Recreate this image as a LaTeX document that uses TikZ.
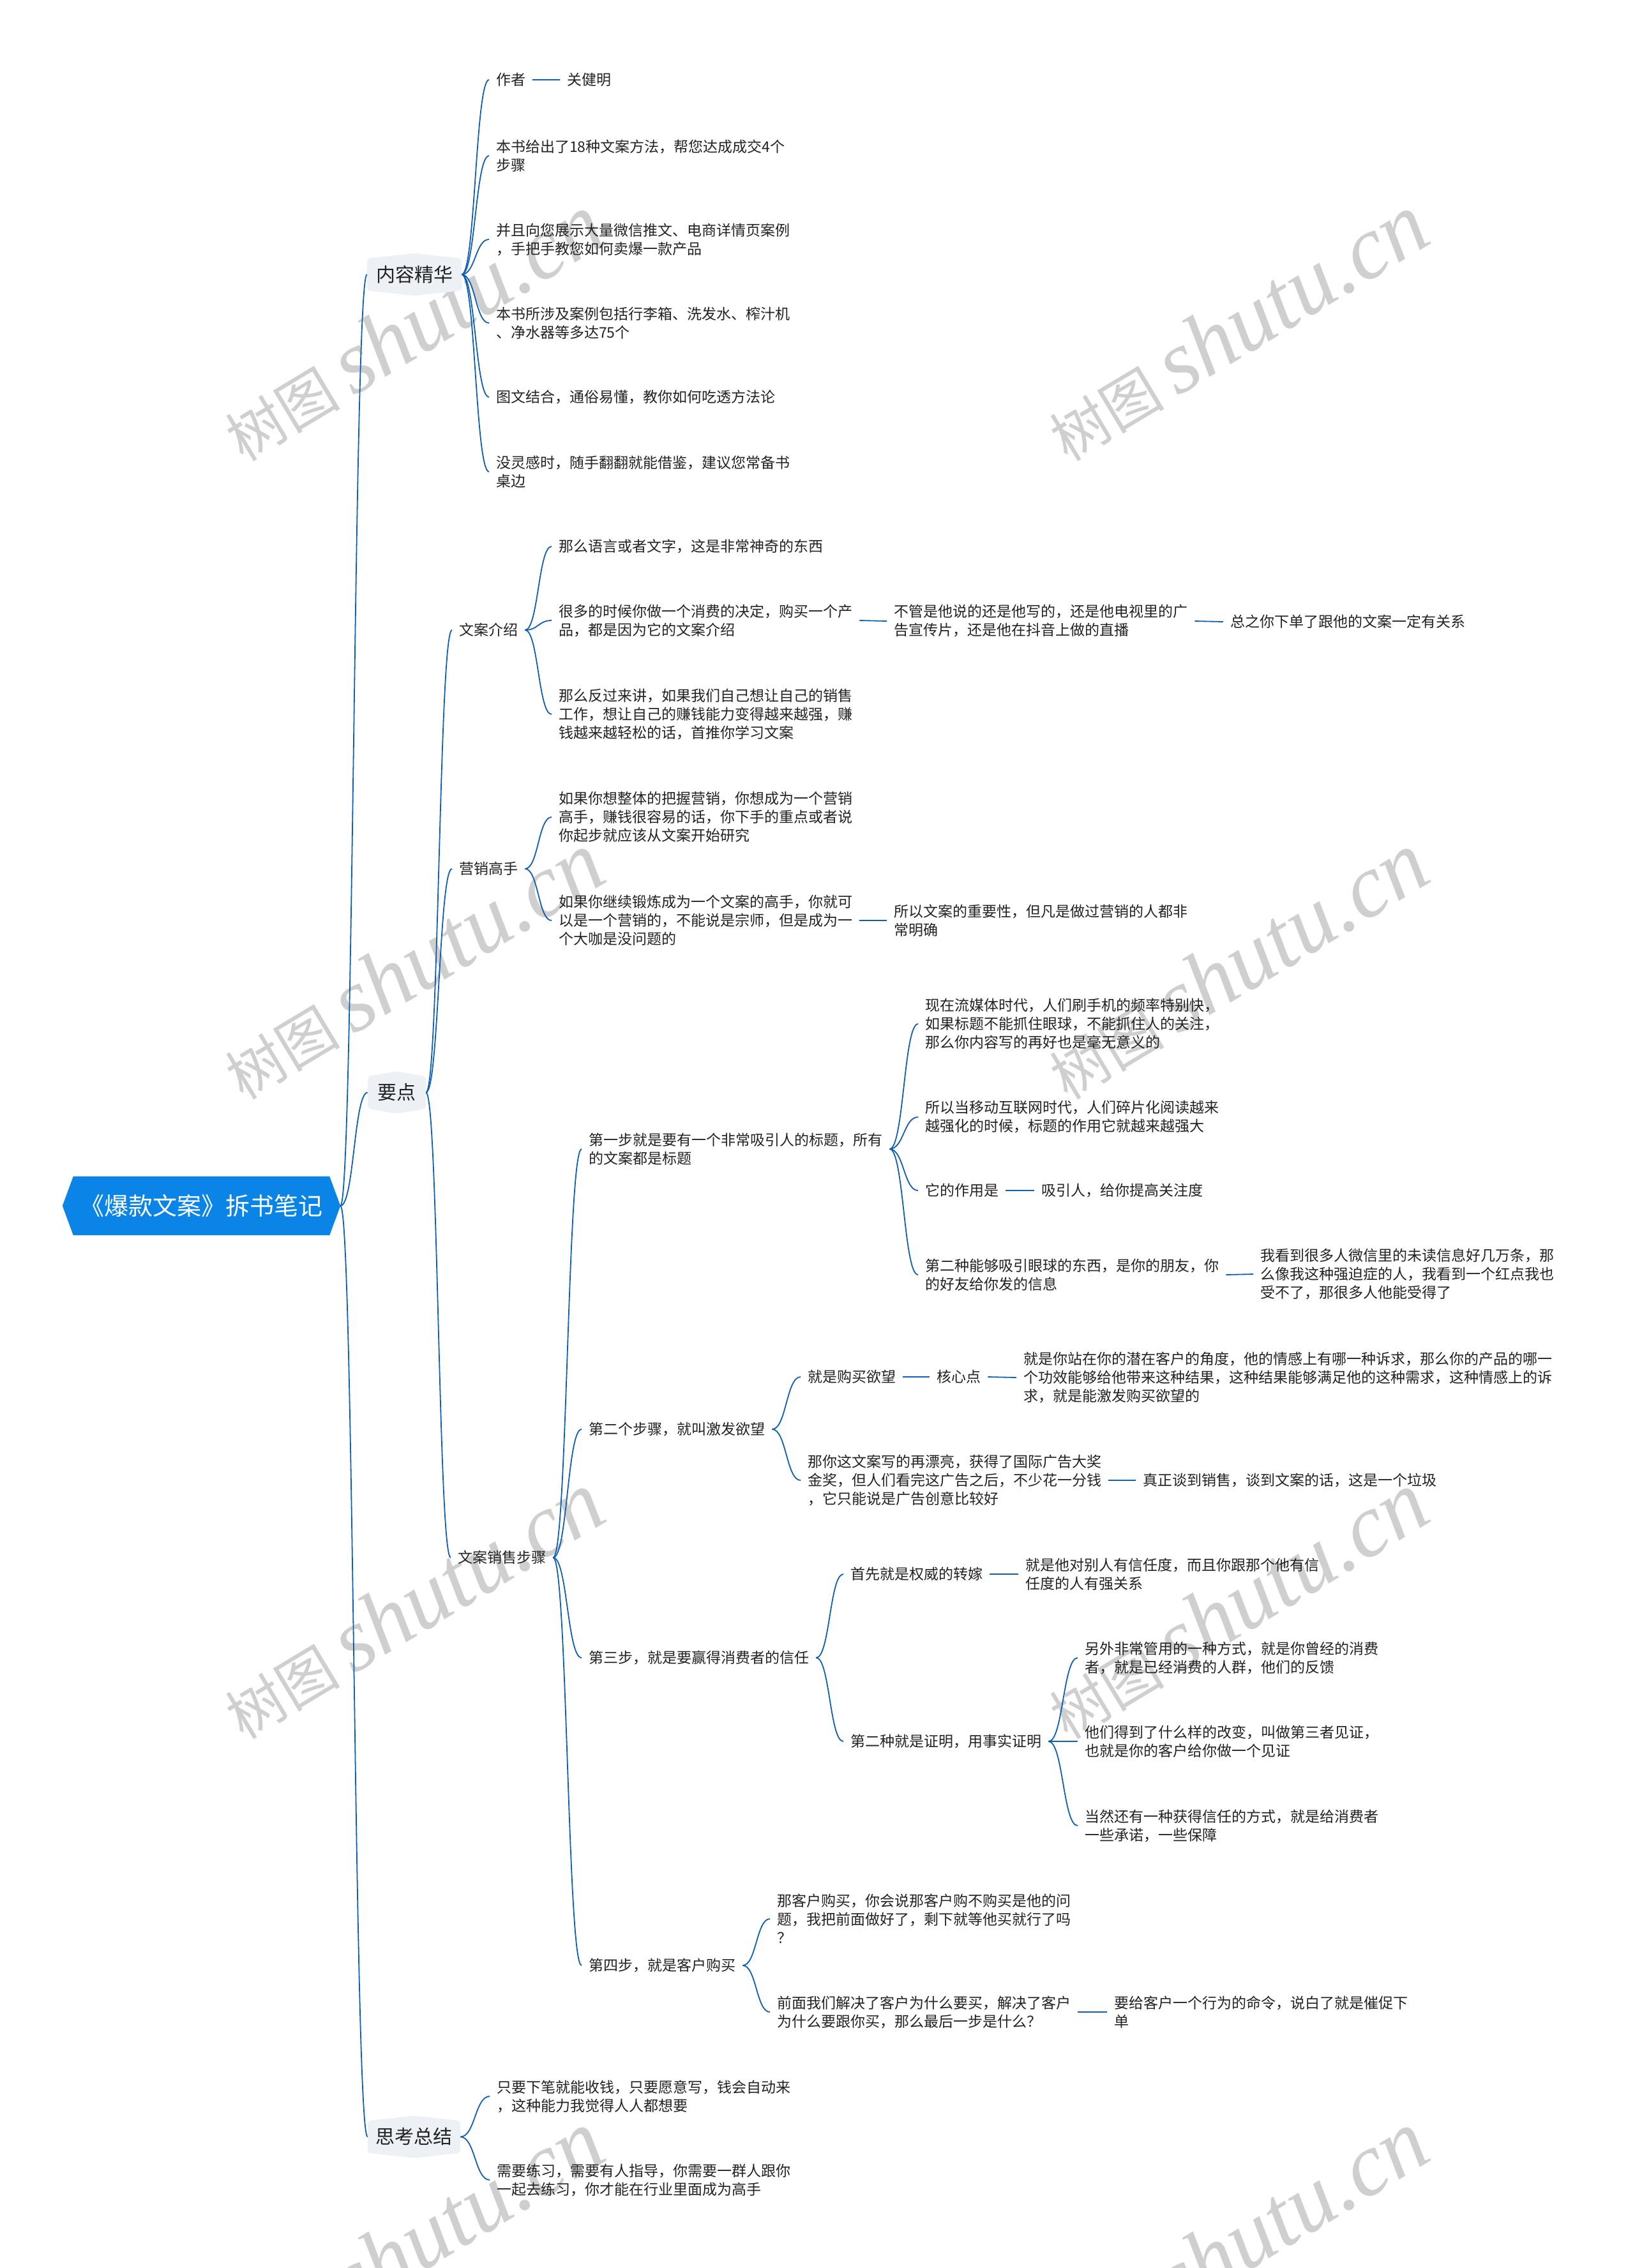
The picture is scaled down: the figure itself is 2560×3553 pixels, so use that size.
\documentclass[tikz,border=0pt]{standalone}
\usepackage{fontspec}
\setmainfont{Noto Sans CJK SC}
\newfontfamily\wmfont{Liberation Serif}
\usetikzlibrary{calc,backgrounds}
\definecolor{lnk}{HTML}{0E5EB6}
\definecolor{rootblue}{HTML}{0A84E6}
\definecolor{lonefill}{HTML}{EDF1F5}
\definecolor{txt}{HTML}{222222}
\definecolor{wmc}{HTML}{CFCFCF}
\newcommand\mmlink[2]{\draw[conn] (#1) .. controls ($(#1)!.5!(#1-|#2)$) and ($(#2)!.5!(#2-|#1)$) .. (#2);}
\begin{document}
\begin{tikzpicture}[x=1pt,y=-1pt,
  leaf/.style={font=\fontsize{23}{29}\selectfont, text=txt, align=left, inner xsep=11pt, inner ysep=2pt, anchor=west},
  lone/.style={font=\fontsize{30}{36}\selectfont, text=txt, inner sep=0pt, minimum height=66pt},
  rootn/.style={font=\fontsize{38}{46}\selectfont, text=white, inner sep=0pt, minimum width=435pt, minimum height=92pt},
  conn/.style={draw=lnk, line width=1.8pt},
  wmark/.style={rotate=31, text=wmc, inner sep=0pt}]
\useasboundingbox (0,0) rectangle (2560,3553);

% root and first level
\node[rootn] (root) at (315.5,1889) {《爆款文案》拆书笔记};
\node[lone, minimum width=148pt] (k1) at (649,430) {内容精华};
\node[lone, minimum width=91pt] (k2) at (621.5,1711.5) {要点};
\node[lone, minimum width=145pt] (k3) at (648.5,3347.5) {思考总结};

% 内容精华
\node[leaf] (a1) at (766,125) {作者};
\node[leaf] (a1b) at (877,125) {关健明};
\node[leaf] (a2) at (766,244) {本书给出了18种文案方法，帮您达成成交4个\\步骤};
\node[leaf] (a3) at (766,375) {并且向您展示大量微信推文、电商详情页案例\\，手把手教您如何卖爆一款产品};
\node[leaf] (a4) at (766,506) {本书所涉及案例包括行李箱、洗发水、榨汁机\\、净水器等多达75个};
\node[leaf] (a5) at (766,622) {图文结合，通俗易懂，教你如何吃透方法论};
\node[leaf] (a6) at (766,739) {没灵感时，随手翻翻就能借鉴，建议您常备书\\桌边};

% 要点
\node[leaf] (b1) at (708,987) {文案介绍};
\node[leaf] (b11) at (864,856) {那么语言或者文字，这是非常神奇的东西};
\node[leaf] (b12) at (864,972) {很多的时候你做一个消费的决定，购买一个产\\品，都是因为它的文案介绍};
\node[leaf] (b121) at (1389,973) {不管是他说的还是他写的，还是他电视里的广\\告宣传片，还是他在抖音上做的直播};
\node[leaf] (b1211) at (1916,974) {总之你下单了跟他的文案一定有关系};
\node[leaf] (b13) at (864,1119) {那么反过来讲，如果我们自己想让自己的销售\\工作，想让自己的赚钱能力变得越来越强，赚\\钱越来越轻松的话，首推你学习文案};
\node[leaf] (b2) at (708,1361) {营销高手};
\node[leaf] (b21) at (864,1280) {如果你想整体的把握营销，你想成为一个营销\\高手，赚钱很容易的话，你下手的重点或者说\\你起步就应该从文案开始研究};
\node[leaf] (b22) at (864,1442) {如果你继续锻炼成为一个文案的高手，你就可\\以是一个营销的，不能说是宗师，但是成为一\\个大咖是没问题的};
\node[leaf] (b221) at (1389,1442) {所以文案的重要性，但凡是做过营销的人都非\\常明确};
\node[leaf] (b3) at (706,2440) {文案销售步骤};

\node[leaf] (c1) at (911,1800) {第一步就是要有一个非常吸引人的标题，所有\\的文案都是标题};
\node[leaf] (c11) at (1438,1604) {现在流媒体时代，人们刷手机的频率特别快，\\如果标题不能抓住眼球，不能抓住人的关注，\\那么你内容写的再好也是毫无意义的};
\node[leaf] (c12) at (1438,1750) {所以当移动互联网时代，人们碎片化阅读越来\\越强化的时候，标题的作用它就越来越强大};
\node[leaf] (c13) at (1438,1865) {它的作用是};
\node[leaf] (c13b) at (1620,1865) {吸引人，给你提高关注度};
\node[leaf] (c14) at (1438,1997) {第二种能够吸引眼球的东西，是你的朋友，你\\的好友给你发的信息};
\node[leaf] (c14b) at (1963,1996) {我看到很多人微信里的未读信息好几万条，那\\么像我这种强迫症的人，我看到一个红点我也\\受不了，那很多人他能受得了};

\node[leaf] (c2) at (911,2239) {第二个步骤，就叫激发欲望};
\node[leaf] (c21) at (1254,2157) {就是购买欲望};
\node[leaf] (c21b) at (1456,2157) {核心点};
\node[leaf] (c21c) at (1592,2158) {就是你站在你的潜在客户的角度，他的情感上有哪一种诉求，那么你的产品的哪一\\个功效能够给他带来这种结果，这种结果能够满足他的这种需求，这种情感上的诉\\求，就是能激发购买欲望的};
\node[leaf] (c22) at (1254,2319) {那你这文案写的再漂亮，获得了国际广告大奖\\金奖，但人们看完这广告之后，不少花一分钱\\，它只能说是广告创意比较好};
\node[leaf] (c22b) at (1779,2319) {真正谈到销售，谈到文案的话，这是一个垃圾};

\node[leaf] (c3) at (911,2597) {第三步，就是要赢得消费者的信任};
\node[leaf] (c31) at (1321,2466) {首先就是权威的转嫁};
\node[leaf] (c31b) at (1595,2466) {就是他对别人有信任度，而且你跟那个他有信\\任度的人有强关系};
\node[leaf] (c32) at (1321,2728) {第二种就是证明，用事实证明};
\node[leaf] (c321) at (1688,2597) {另外非常管用的一种方式，就是你曾经的消费\\者，就是已经消费的人群，他们的反馈};
\node[leaf] (c322) at (1688,2728) {他们得到了什么样的改变，叫做第三者见证，\\也就是你的客户给你做一个见证};
\node[leaf] (c323) at (1688,2860) {当然还有一种获得信任的方式，就是给消费者\\一些承诺，一些保障};

\node[leaf] (c4) at (911,3079) {第四步，就是客户购买};
\node[leaf] (c41) at (1206,3006) {那客户购买，你会说那客户购不购买是他的问\\题，我把前面做好了，剩下就等他买就行了吗\\？};
\node[leaf] (c42) at (1206,3152) {前面我们解决了客户为什么要买，解决了客户\\为什么要跟你买，那么最后一步是什么？};
\node[leaf] (c42b) at (1734,3152) {要给客户一个行为的命令，说白了就是催促下\\单};

% 思考总结
\node[leaf] (d1) at (767,3284) {只要下笔就能收钱，只要愿意写，钱会自动来\\，这种能力我觉得人人都想要};
\node[leaf] (d2) at (767,3415) {需要练习，需要有人指导，你需要一群人跟你\\一起去练习，你才能在行业里面成为高手};

% background: white, watermarks, shapes
\begin{pgfonlayer}{background}
\fill[white] (0,0) rectangle (2560,3553);
\node[wmark] (wm1) at (646,513) {\fontsize{90}{90}\selectfont 树图 {\wmfont\itshape\fontsize{140}{140}\selectfont shutu.cn}};
\node[wmark] (wm2) at (1937,513) {\fontsize{90}{90}\selectfont 树图 {\wmfont\itshape\fontsize{140}{140}\selectfont shutu.cn}};
\node[wmark] (wm3) at (646,1513) {\fontsize{90}{90}\selectfont 树图 {\wmfont\itshape\fontsize{140}{140}\selectfont shutu.cn}};
\node[wmark] (wm4) at (1937,1513) {\fontsize{90}{90}\selectfont 树图 {\wmfont\itshape\fontsize{140}{140}\selectfont shutu.cn}};
\node[wmark] (wm5) at (646,2515) {\fontsize{90}{90}\selectfont 树图 {\wmfont\itshape\fontsize{140}{140}\selectfont shutu.cn}};
\node[wmark] (wm6) at (1937,2515) {\fontsize{90}{90}\selectfont 树图 {\wmfont\itshape\fontsize{140}{140}\selectfont shutu.cn}};
\node[wmark] (wm7) at (646,3516) {\fontsize{90}{90}\selectfont 树图 {\wmfont\itshape\fontsize{140}{140}\selectfont shutu.cn}};
\node[wmark] (wm8) at (1937,3516) {\fontsize{90}{90}\selectfont 树图 {\wmfont\itshape\fontsize{140}{140}\selectfont shutu.cn}};
\fill[rootblue] (root.west) -- ($(root.north west)+(17,0)$) -- ($(root.north east)+(-17,0)$) -- (root.east) -- ($(root.south east)+(-17,0)$) -- ($(root.south west)+(17,0)$) -- cycle;
\foreach \n in {k1,k2,k3}
  \fill[lonefill, rounded corners=5pt] ($(\n.north west)+(0,8)$) -- (\n.north) -- ($(\n.north east)+(0,8)$) -- ($(\n.south east)+(0,-8)$) -- (\n.south) -- ($(\n.south west)+(0,-8)$) -- cycle;
\end{pgfonlayer}

% connectors
\mmlink{root.east}{k1.west}
\mmlink{root.east}{k2.west}
\mmlink{root.east}{k3.west}
\foreach \c in {a1,a2,a3,a4,a5,a6} {\mmlink{k1.east}{\c.west}}
\mmlink{a1.east}{a1b.west}
\foreach \c in {b1,b2,b3} {\mmlink{k2.east}{\c.west}}
\foreach \c in {b11,b12,b13} {\mmlink{b1.east}{\c.west}}
\mmlink{b12.east}{b121.west}
\mmlink{b121.east}{b1211.west}
\foreach \c in {b21,b22} {\mmlink{b2.east}{\c.west}}
\mmlink{b22.east}{b221.west}
\foreach \c in {c1,c2,c3,c4} {\mmlink{b3.east}{\c.west}}
\foreach \c in {c11,c12,c13,c14} {\mmlink{c1.east}{\c.west}}
\mmlink{c13.east}{c13b.west}
\mmlink{c14.east}{c14b.west}
\foreach \c in {c21,c22} {\mmlink{c2.east}{\c.west}}
\mmlink{c21.east}{c21b.west}
\mmlink{c21b.east}{c21c.west}
\mmlink{c22.east}{c22b.west}
\foreach \c in {c31,c32} {\mmlink{c3.east}{\c.west}}
\mmlink{c31.east}{c31b.west}
\foreach \c in {c321,c322,c323} {\mmlink{c32.east}{\c.west}}
\foreach \c in {c41,c42} {\mmlink{c4.east}{\c.west}}
\mmlink{c42.east}{c42b.west}
\foreach \c in {d1,d2} {\mmlink{k3.east}{\c.west}}
\end{tikzpicture}
\end{document}
